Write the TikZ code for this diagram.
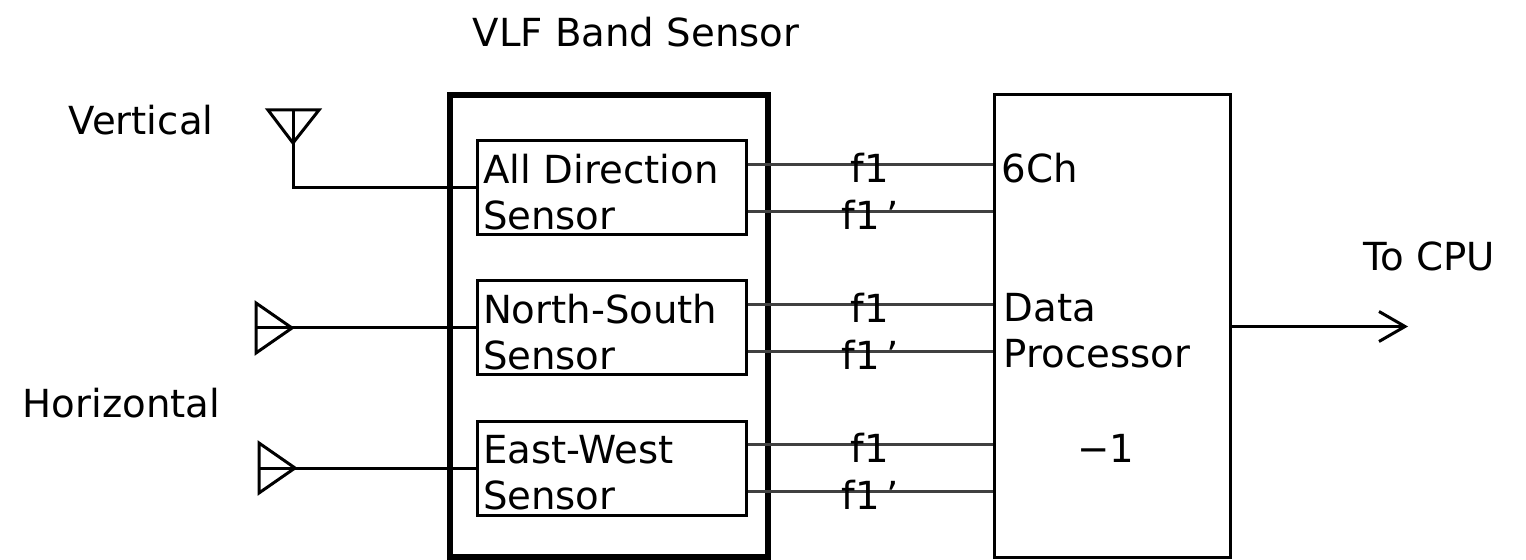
\documentclass[tikz,border=0pt]{standalone}
\usepackage{fontspec}
\setmainfont{DejaVu Sans}
\usetikzlibrary{arrows.meta}

\tikzset{box/.style={draw,line width=0.3mm,inner sep=0pt},
  sensorbox/.style={box,minimum width=26.9mm,minimum height=9.4mm,text width=25.7mm,align=left,inner xsep=0.6mm,
    execute at begin node={\rule{0pt}{3.7mm}}},
  wire/.style={line width=0.3mm},
  sigline/.style={line width=0.3mm,black!75},
  freq/.style={anchor=base,yshift=-1.8mm,inner sep=0pt,text=black},
  plain/.style={anchor=base west,inner sep=0pt}}

\begin{document}
\begin{tikzpicture}[x=0.1mm,y=-0.1mm,font=\fontsize{11}{13.1}\selectfont]
                  \useasboundingbox (0,0) rectangle (1526,560);
                  \node[box,line width=0.65mm,minimum width=31.8mm,minimum height=46.2mm] (vlf) at (609,326) {};
                  \node[plain] (title) at (472,47) {VLF Band Sensor};
                  \node[sensorbox] (ad) at (611.5,188) {All Direction\\Sensor};
                  \node[sensorbox] (ns) at (611.5,328) {North-South\\Sensor};
                  \node[sensorbox] (ew) at (611.5,468) {East-West\\Sensor};
                  \node[box,minimum width=23.6mm,minimum height=46.3mm] (dp) at (1112,326.5) {};
                  \node[plain] (ch) at (1001,183) {6Ch};
                  \node[plain,align=left] (proc) at (1003,368) {Data\\Processor};
                  \node[anchor=base,inner sep=0pt] (unit) at (1106,462) {−1};
                  \foreach \s in {ad,ns,ew}{
                    \draw[sigline] ([yshift=2.35mm]\s.east) coordinate (\s a) -- (\s a -| dp.west) node[freq,midway] {f1};
                    \draw[sigline] ([yshift=-2.35mm]\s.east) coordinate (\s b) -- (\s b -| dp.west) node[freq,midway] {f1\,’};
                  }
                  % antennas
                  \node[plain] (vert) at (68,135) {Vertical};
                  \node[plain] (horiz) at (22,417) {Horizontal};
                  \draw[wire] (268,110) -- (319,110) -- (293,143) -- cycle;
                  \coordinate (vant) at (293,143);
                  \draw[wire] (293,110) -- (vant) |- (ad.west);
                  \foreach \s/\x/\y in {ns/256/328,ew/259/468}{
                    \draw[wire] (\x,\y-25) -- (\x,\y+25) -- (\x+36,\y) -- cycle;
                    \coordinate (\s ant) at (\x+36,\y);
                    \draw[wire] (\x,\y) -- (\s ant) -- (\s.west);
                  }
                  % output
                  \coordinate (cpu) at (1408,326.5);
                  \draw[wire,-{Straight Barb[length=2.6mm,width=3mm]}] (dp.east) -- (cpu);
                  \node[plain] (tocpu) at (1363,271) {To CPU};
              \end{tikzpicture}
\end{document}
